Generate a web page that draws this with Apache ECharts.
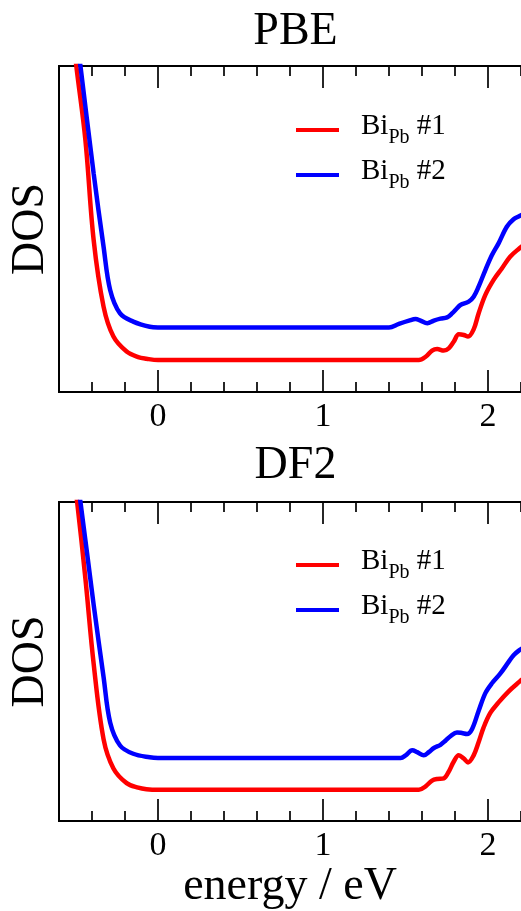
<!DOCTYPE html>
<html>
<head>
<meta charset="utf-8">
<script src="https://cdn.jsdelivr.net/npm/echarts@6/dist/echarts.min.js"></script>
<style>
html,body{margin:0;padding:0;background:#fff;}
#chart{width:521px;height:911px;}
</style>
</head>
<body>
<div id="chart"></div>
<script>
// ---- data (energy / eV, DOS arb. units) ----
var panelTitles = ['PBE', 'DF2'];
var seriesNames = ['Bi_Pb #1', 'Bi_Pb #2'];
var majorTicks = [0, 1, 2];
var minorTicks = [-0.4, -0.2, 0.2, 0.4, 0.6, 0.8, 1.2, 1.4, 1.6, 1.8, 2.2];
var xRange = [-0.6, 2.2];
var yRange = [0, 10];

var pbeBi1 = [[-0.52,11.2],[-0.495,10],[-0.44,7.73],[-0.39,4.66],[-0.33,2.62],[-0.27,1.70],[-0.19,1.24],[-0.12,1.07],[-0.07,1.02],[0,0.98],
  [1.34,0.98],[1.581,0.98],[1.622,1.08],[1.661,1.27],[1.692,1.32],[1.732,1.27],[1.762,1.34],[1.792,1.54],[1.823,1.77],[1.853,1.75],
  [1.879,1.70],[1.913,1.92],[1.943,2.41],[1.984,2.98],[2.034,3.44],[2.084,3.79],[2.134,4.15],[2.191,4.41],[2.21,4.48]];
var pbeBi2 = [[-0.50,11.2],[-0.47,10],[-0.39,6.7],[-0.33,4.46],[-0.29,3.13],[-0.23,2.41],[-0.15,2.16],[-0.05,2.0],[0,1.98],
  [1.34,1.98],[1.40,1.98],[1.460,2.09],[1.521,2.19],[1.561,2.24],[1.591,2.19],[1.632,2.11],[1.672,2.19],[1.712,2.25],[1.752,2.29],
  [1.782,2.41],[1.812,2.57],[1.833,2.67],[1.883,2.77],[1.913,2.92],[1.943,3.23],[1.984,3.74],[2.024,4.20],[2.064,4.56],[2.114,5.07],
  [2.155,5.30],[2.191,5.40],[2.21,5.45]];
var df2Bi1 = [[-0.52,11.2],[-0.49,10],[-0.44,7.6],[-0.39,4.93],[-0.33,2.57],[-0.27,1.65],[-0.19,1.19],[-0.12,1.05],[-0.07,1.0],[0,0.98],
  [1.34,0.98],[1.581,0.98],[1.622,1.09],[1.661,1.27],[1.692,1.32],[1.732,1.34],[1.762,1.55],[1.792,1.86],[1.823,2.06],[1.853,1.96],
  [1.879,1.84],[1.913,2.06],[1.943,2.47],[1.973,2.93],[2.014,3.39],[2.064,3.72],[2.124,4.06],[2.191,4.37],[2.21,4.45]];
var df2Bi2 = [[-0.50,11.0],[-0.47,10],[-0.39,6.78],[-0.33,4.52],[-0.29,3.09],[-0.23,2.37],[-0.15,2.11],[-0.05,2.0],[0,1.98],
  [1.34,1.98],[1.471,1.98],[1.501,2.06],[1.541,2.22],[1.571,2.16],[1.611,2.06],[1.641,2.16],[1.672,2.29],[1.712,2.39],[1.742,2.52],
  [1.772,2.66],[1.812,2.78],[1.842,2.76],[1.873,2.73],[1.903,2.88],[1.943,3.45],[1.984,4.01],[2.024,4.32],[2.074,4.62],[2.124,4.98],
  [2.155,5.20],[2.191,5.36],[2.21,5.42]];

var panelData = [[pbeBi1, pbeBi2], [df2Bi1, df2Bi2]];
var colors = ['#ff0000', '#0000ff'];
var FONT = '"Liberation Serif", "DejaVu Serif", serif';

// ---- layout ----
var grids = [
  {left: 59, top: 66, width: 463.5, height: 326},
  {left: 59, top: 502, width: 463.5, height: 325}
];

function tickAxis(gi, pos, values, len) {
  return {
    gridIndex: gi, type: 'value', min: xRange[0], max: xRange[1], position: pos,
    splitLine: {show: false},
    axisLine: {show: true, onZero: false, lineStyle: {color: '#000', width: 2}},
    axisTick: {show: true, inside: true, length: len, customValues: values, lineStyle: {color: '#000', width: 1.7}},
    axisLabel: {show: false}
  };
}

var xAxes = [], yAxes = [], series = [], titles = [], legends = [];
grids.forEach(function (g, gi) {
  var main = tickAxis(gi, 'bottom', majorTicks, 22);
  main.axisLabel = {show: true, customValues: majorTicks, margin: 8, color: '#000', fontSize: 34, fontFamily: FONT};
  main.name = gi === 1 ? 'energy / eV' : '';
  main.nameLocation = 'middle';
  main.nameGap = 26;
  main.nameTextStyle = {color: '#000', fontSize: 46, fontFamily: FONT};
  xAxes.push(main);
  xAxes.push(tickAxis(gi, 'bottom', minorTicks, 10));
  xAxes.push(tickAxis(gi, 'top', majorTicks, 22));
  xAxes.push(tickAxis(gi, 'top', minorTicks, 10));
  yAxes.push({
    gridIndex: gi, type: 'value', min: yRange[0], max: yRange[1],
    splitLine: {show: false},
    axisLine: {show: true, onZero: false, lineStyle: {color: '#000', width: 2}},
    axisTick: {show: false}, axisLabel: {show: false},
    name: 'DOS', nameLocation: 'middle', nameRotate: 90, nameGap: 5,
    nameTextStyle: {color: '#000', fontSize: 46, fontFamily: FONT}
  });
  panelData[gi].forEach(function (d, si) {
    series.push({
      name: seriesNames[si], type: 'line', xAxisIndex: gi * 4, yAxisIndex: gi,
      data: d, smooth: 0.35, showSymbol: false, symbol: 'none', clip: true,
      lineStyle: {color: colors[si], width: 4.5}, itemStyle: {color: colors[si]},
      z: 3 + si
    });
  });
  titles.push({
    text: panelTitles[gi], left: 290.5, textAlign: 'center', top: gi === 0 ? 4 : 438,
    textStyle: {color: '#000', fontSize: 46, fontWeight: 'normal', fontFamily: FONT}
  });
  legends.push({
    data: seriesNames, orient: 'vertical', left: 291, top: gi === 0 ? 107 : 542,
    icon: 'rect', itemWidth: 43, itemHeight: 4, itemGap: 9,
    formatter: function (name) {
      var parts = name.split(' ');
      return '{g|}{b|Bi}{s|Pb}{b| ' + parts[1] + '}';
    },
    textStyle: {
      color: '#000', fontFamily: FONT,
      rich: {
        g: {width: 17},
        b: {fontSize: 29, fontFamily: FONT, color: '#000', verticalAlign: 'top', lineHeight: 29},
        s: {fontSize: 20, fontFamily: FONT, color: '#000', verticalAlign: 'bottom', lineHeight: 36}
      }
    },
    selectedMode: false
  });
});

var chart = echarts.init(document.getElementById('chart'), null, {renderer: 'canvas'});
chart.setOption({
  animation: false,
  backgroundColor: '#fff',
  title: titles,
  legend: legends,
  grid: grids,
  xAxis: xAxes,
  yAxis: yAxes,
  series: series
});
</script>
</body>
</html>
